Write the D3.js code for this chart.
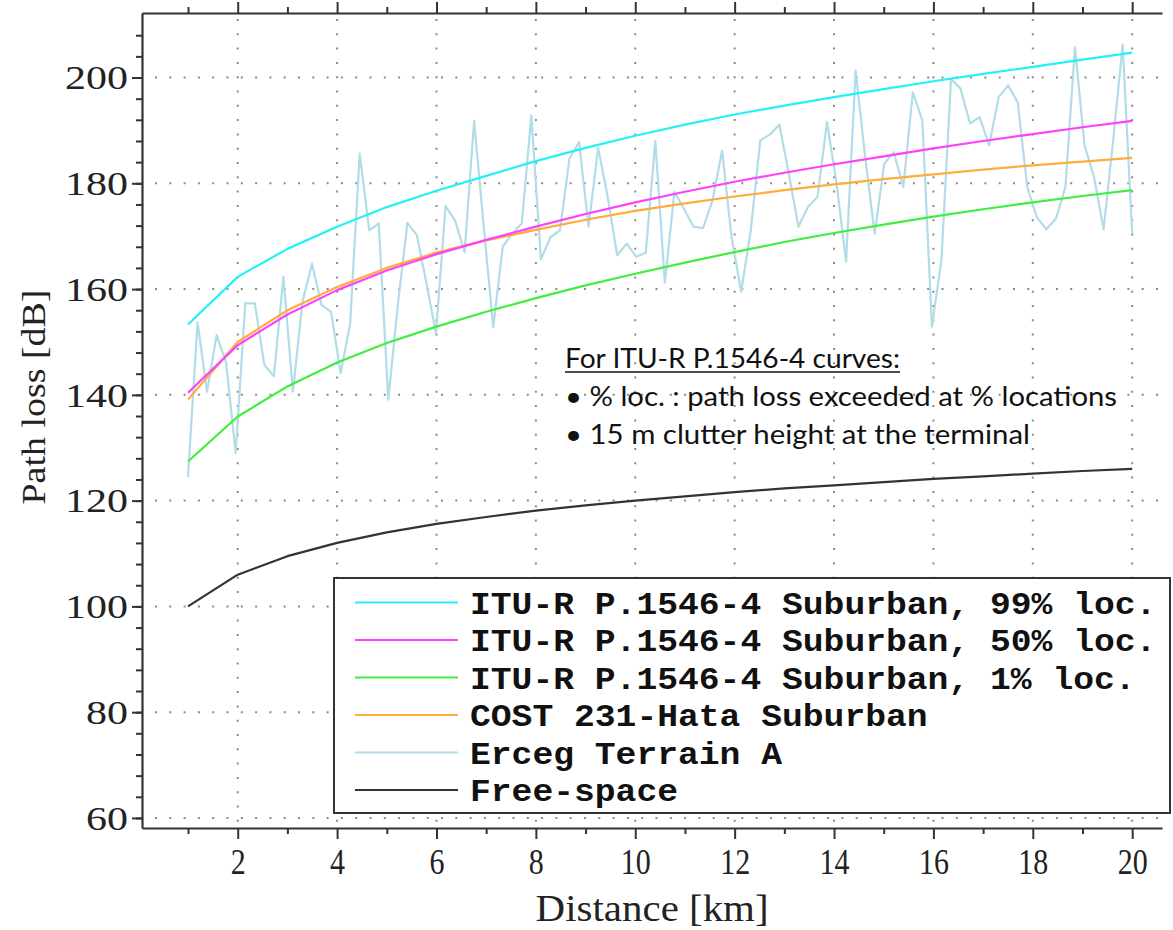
<!DOCTYPE html>
<html>
<head>
<meta charset="utf-8">
<script src="https://cdn.jsdelivr.net/npm/d3@7/dist/d3.min.js"></script>
<style>
  body { margin: 0; background: #fff; }
  svg { display: block; }
</style>
</head>
<body>
<div id="chart"></div>
<script>
// distances (km) where the model curves are sampled
const distKm = [1, 2, 3, 4, 5, 6, 7, 8, 9, 10, 11, 12, 13, 14, 15, 16, 17, 18, 19, 20];

const itu99 = [153.3, 162.3, 167.6, 171.8, 175.5, 178.6, 181.4, 184.2, 186.7, 189.0,
               191.1, 193.0, 194.7, 196.3, 197.8, 199.3, 200.7, 202.0, 203.4, 204.7];
const itu50 = [140.4, 149.4, 155.2, 159.8, 163.5, 166.6, 169.3, 171.8, 174.2, 176.4,
               178.4, 180.3, 182.0, 183.6, 185.1, 186.6, 188.0, 189.3, 190.6, 191.8];
const itu1 = [127.4, 135.9, 141.6, 146.1, 149.8, 152.9, 155.7, 158.3, 160.7, 162.9,
              165.0, 167.0, 168.9, 170.6, 172.2, 173.7, 175.1, 176.4, 177.6, 178.7];
const cost231 = [139.1, 150.0, 156.0, 160.4, 164.0, 166.9, 169.2, 171.2, 173.1, 174.8,
                 176.2, 177.5, 178.7, 179.8, 180.8, 181.7, 182.6, 183.4, 184.1, 184.8];
const freeSpace = [100.0, 106.0, 109.5, 112.0, 114.0, 115.6, 116.9, 118.1, 119.1, 120.0,
                   120.8, 121.6, 122.3, 122.9, 123.5, 124.1, 124.6, 125.1, 125.6, 126.0];

// Erceg terrain A: 100 samples evenly spaced from 1 to 20 km
const ercegValues = [
  124.5, 153.7, 140.6, 151.3, 146.0, 129.0, 157.3, 157.3, 145.7, 143.5,
  162.3, 140.6, 157.6, 164.8, 157.0, 155.7, 144.1, 153.5, 185.6, 171.1,
  172.4, 139.1, 157.0, 172.5, 170.2, 161.1, 151.6, 175.7, 173.0, 167.0,
  191.8, 172.0, 152.8, 168.0, 170.5, 172.4, 192.8, 165.6, 169.8, 171.1,
  184.7, 187.8, 171.8, 186.7, 177.5, 166.4, 168.6, 166.1, 166.9, 188.0,
  161.2, 178.4, 175.2, 171.8, 171.5, 176.8, 186.2, 169.7, 159.5, 171.0,
  188.1, 189.2, 191.1, 181.8, 171.8, 175.5, 177.4, 191.6, 180.0, 165.2,
  201.3, 185.0, 170.5, 183.7, 185.9, 179.3, 197.2, 191.9, 152.9, 165.5,
  199.7, 197.9, 191.3, 192.5, 187.2, 196.3, 198.5, 195.3, 179.3, 173.6,
  171.3, 173.3, 179.3, 205.7, 187.2, 181.2, 171.3, 188.0, 206.2, 170.5
];
const ercegDist = ercegValues.map((v, i) => 1 + i * 19 / (ercegValues.length - 1));

const xTicks = [1, 2, 3, 4, 5, 6, 7, 8, 9, 10, 11, 12, 13, 14, 15, 16, 17, 18, 19, 20];
const xLabels = [2, 4, 6, 8, 10, 12, 14, 16, 18, 20];
const yLabels = [60, 80, 100, 120, 140, 160, 180, 200];

const seriesNames = [
  "ITU-R P.1546-4 Suburban, 99% loc.",
  "ITU-R P.1546-4 Suburban, 50% loc.",
  "ITU-R P.1546-4 Suburban, 1% loc.",
  "COST 231-Hata Suburban",
  "Erceg Terrain A",
  "Free-space"
];
const seriesColors = ["#22f2f6", "#ff40ff", "#40ee40", "#ffad3a", "#b2dce8", "#333333"];

const noteLines = [
  "For ITU-R P.1546-4 curves:",
  "\u2022 % loc. : path loss exceeded at % locations",
  "\u2022 15 m clutter height at the terminal"
];

const width = 1173;
const height = 930;
const plot = { left: 142, top: 13, right: 1162, bottom: 828 };

const svg = d3.select("#chart")
  .append("svg")
  .attr("width", width)
  .attr("height", height);

const x = d3.scaleLinear().domain([0.074, 20.6]).range([plot.left, plot.right]);
const y = d3.scaleLinear().domain([58.1, 212.2]).range([plot.bottom, plot.top]);

// dotted grid
const grid = svg.append("g")
  .attr("stroke", "#8a8a8a")
  .attr("stroke-width", 2)
  .attr("stroke-dasharray", "2,12.3");

grid.selectAll("line.h")
  .data(yLabels)
  .enter()
  .append("line")
  .attr("x1", plot.left + 13)
  .attr("x2", plot.right)
  .attr("y1", d => y(d))
  .attr("y2", d => y(d));

grid.selectAll("line.v")
  .data(xLabels)
  .enter()
  .append("line")
  .attr("x1", d => x(d))
  .attr("x2", d => x(d))
  .attr("y1", plot.top + 6)
  .attr("y2", plot.bottom);

// curves
const line = d3.line()
  .x(d => x(d[0]))
  .y(d => y(d[1]));

const curveData = [itu99, itu50, itu1, cost231].map(vals => distKm.map((d, i) => [d, vals[i]]));

const curves = svg.append("g")
  .attr("fill", "none")
  .attr("stroke-width", 2.2)
  .attr("stroke-linejoin", "round");

curves.append("path")
  .attr("d", line(ercegDist.map((d, i) => [d, ercegValues[i]])))
  .attr("stroke", seriesColors[4]);

curves.append("path")
  .attr("d", line(distKm.map((d, i) => [d, freeSpace[i]])))
  .attr("stroke", seriesColors[5]);

// draw order: green, orange, magenta, cyan
[2, 3, 1, 0].forEach(k => {
  curves.append("path")
    .attr("d", line(curveData[k]))
    .attr("stroke", seriesColors[k]);
});

// axes
function styleAxis(g) {
  g.selectAll("path.domain").attr("stroke", "#333").attr("stroke-width", 2.2);
  g.selectAll(".tick line").attr("stroke", "#333").attr("stroke-width", 2);
}

const yMinor = d3.range(60, 209, 4);

svg.append("g")
  .attr("transform", "translate(" + plot.left + ",0)")
  .call(d3.axisLeft(y).tickValues(yMinor).tickSize(6).tickSizeOuter(0).tickFormat(""))
  .call(styleAxis);

const yAxis = svg.append("g")
  .attr("transform", "translate(" + plot.left + ",0)")
  .call(d3.axisLeft(y).tickValues(yLabels).tickSize(10).tickSizeOuter(0).tickPadding(4))
  .call(styleAxis);
yAxis.select("path.domain").remove();
yAxis.selectAll(".tick text")
  .attr("font-family", "'Liberation Serif', 'DejaVu Serif', serif")
  .attr("font-size", 33)
  .attr("fill", "#222")
  .attr("dy", "0.34em")
  .attr("textLength", d => String(d).length * 21)
  .attr("lengthAdjust", "spacingAndGlyphs");

function xAxisAt(axisFn, ypos) {
  const minor = svg.append("g")
    .attr("transform", "translate(0," + ypos + ")")
    .call(axisFn(x).tickValues(xTicks.filter(d => d % 2 === 1)).tickSize(6).tickSizeOuter(0).tickFormat(""))
    .call(styleAxis);
  const major = svg.append("g")
    .attr("transform", "translate(0," + ypos + ")")
    .call(axisFn(x).tickValues(xLabels).tickSize(11).tickSizeOuter(0))
    .call(styleAxis);
  major.select("path.domain").remove();
  return major;
}

xAxisAt(d3.axisTop, plot.top).selectAll(".tick text").remove();

const xAxis = xAxisAt(d3.axisBottom, plot.bottom);
xAxis.selectAll(".tick text")
  .attr("font-family", "'Liberation Serif', 'DejaVu Serif', serif")
  .attr("font-size", 36)
  .attr("fill", "#222")
  .attr("y", 20)
  .attr("dy", "0.71em")
  .attr("textLength", d => String(d).length * 15)
  .attr("lengthAdjust", "spacingAndGlyphs");

svg.append("text")
  .attr("x", (x(1) + x(20)) / 2 - 8)
  .attr("y", 921)
  .attr("text-anchor", "middle")
  .attr("font-family", "'Liberation Serif', 'DejaVu Serif', serif")
  .attr("font-size", 38)
  .attr("fill", "#222")
  .attr("textLength", 233)
  .attr("lengthAdjust", "spacingAndGlyphs")
  .text("Distance [km]");

svg.append("text")
  .attr("transform", "translate(45,397) rotate(-90)")
  .attr("text-anchor", "middle")
  .attr("font-family", "'Liberation Serif', 'DejaVu Serif', serif")
  .attr("font-size", 34)
  .attr("fill", "#222")
  .attr("textLength", 215)
  .attr("lengthAdjust", "spacingAndGlyphs")
  .text("Path loss [dB]");

// note
const note = svg.append("g")
  .attr("font-family", "Lato, 'Open Sans', sans-serif")
  .attr("font-size", 27)
  .attr("fill", "#111");
const noteWidths = [335, 552, 465];
note.selectAll("text")
  .data(noteLines)
  .enter()
  .append("text")
  .attr("x", 565)
  .attr("y", (d, i) => 368 + i * 38)
  .attr("textLength", (d, i) => noteWidths[i])
  .attr("lengthAdjust", "spacingAndGlyphs")
  .text(d => d);
note.append("line")
  .attr("x1", 565)
  .attr("x2", 565 + noteWidths[0])
  .attr("y1", 372)
  .attr("y2", 372)
  .attr("stroke", "#111")
  .attr("stroke-width", 1.6);

// legend
const legend = svg.append("g");
legend.append("rect")
  .attr("x", 334)
  .attr("y", 578)
  .attr("width", 836)
  .attr("height", 235)
  .attr("fill", "#fff")
  .attr("stroke", "#333")
  .attr("stroke-width", 2);

const rows = legend.selectAll("g.row")
  .data(seriesNames)
  .enter()
  .append("g")
  .attr("transform", (d, i) => "translate(0," + (602.5 + i * 37.5) + ")");

rows.append("line")
  .attr("x1", 355)
  .attr("x2", 458)
  .attr("stroke", (d, i) => seriesColors[i])
  .attr("stroke-width", 2.2);

rows.append("text")
  .attr("x", 470)
  .attr("y", 11)
  .attr("font-family", "'Liberation Mono', 'Courier New', monospace")
  .attr("font-weight", "bold")
  .attr("font-size", 31)
  .attr("fill", "#111")
  .attr("textLength", d => d.length * 20.8)
  .attr("lengthAdjust", "spacingAndGlyphs")
  .text(d => d);
</script>
</body>
</html>
